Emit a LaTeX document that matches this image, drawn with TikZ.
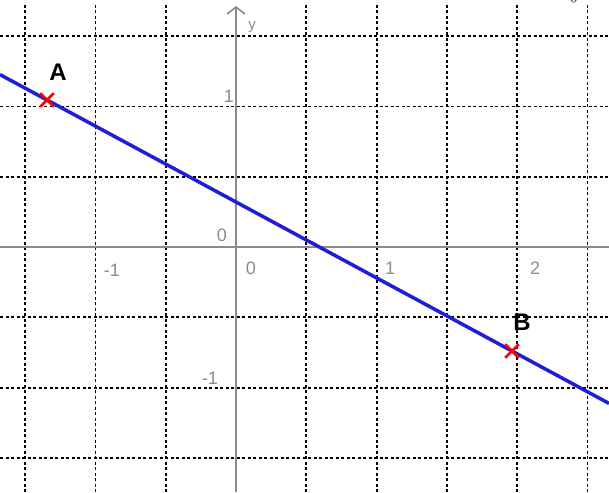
\documentclass[tikz,border=0pt]{standalone}
\usepackage{fontspec}
\setmainfont{Liberation Sans}
\usetikzlibrary{shapes.misc,arrows.meta}
\definecolor{lineblue}{RGB}{30,30,215}
\definecolor{axgray}{RGB}{140,140,140}
\begin{document}
\begin{tikzpicture}[x=1pt,y=-1pt,
 gridline/.style={line width=1.8pt, dash pattern=on 3pt off 2.5pt, black},
 axisline/.style={line width=1.6pt, axgray},
 ticklabel/.style={text=axgray, font=\fontsize{18}{18}\selectfont, inner sep=0pt},
 ptmark/.style={cross out, draw=red, line width=2.6pt, minimum size=11pt, inner sep=0pt},
 ptlabel/.style={font=\fontsize{24}{24}\selectfont\bfseries, inner sep=0pt}]
\useasboundingbox (0,0) rectangle (609,492);
\fill[white] (0,0) rectangle (609,492);
\foreach \gx in {25.1,95.4,165.7,306.3,376.6,446.9,517.2,587.5}
  \draw[gridline] (\gx,5) -- (\gx,492);
\foreach \gy in {36.1,106.4,176.7,317.3,387.6,457.9}
  \draw[gridline] (0,\gy) -- (609,\gy);
\draw[axisline] (0,247) -- (609,247);
\draw[axisline, -{Straight Barb[length=7pt,width=18pt]}] (236,492) -- (236,6);
% axis labels
\node[ticklabel, font=\fontsize{15}{15}\selectfont] (ylab) at (252,27) {y};
\node[ticklabel] (xm1) at (112,270) {-1};
\node[ticklabel] (x0) at (251,268) {0};
\node[ticklabel] (x1) at (390,268) {1};
\node[ticklabel] (x2) at (535,268) {2};
\node[ticklabel] (y1) at (229,96) {1};
\node[ticklabel] (y0) at (222,235) {0};
\node[ticklabel] (ym1) at (210,378) {-1};
% line
\coordinate (L) at (0,74.6);
\coordinate (R) at (609,403.4);
\draw[lineblue, line width=3.5pt] (L) -- (R);
% points
\node[ptmark] (A) at (47,100) {};
\node[ptmark] (B) at (512,351) {};
\node[ptlabel] (Alab) at (58,72) {A};
\node[ptlabel] (Blab) at (522,322) {B};
% cut-off glyph at top right
\node[inner sep=0pt, anchor=base, font=\fontsize{16}{16}\selectfont] (cut) at (575,0) {$y$};
\end{tikzpicture}
\end{document}
